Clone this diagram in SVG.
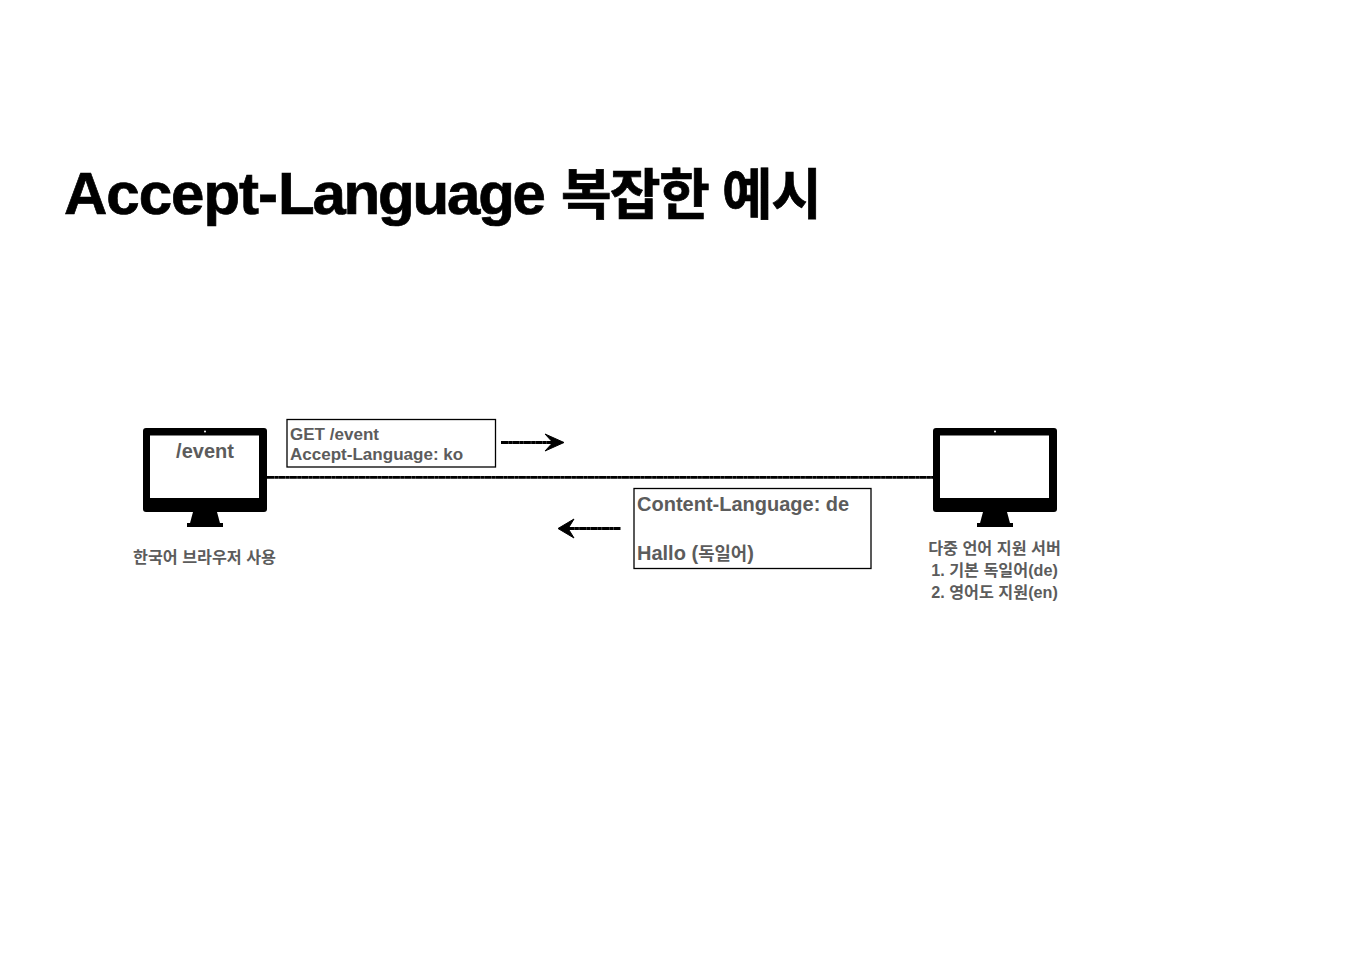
<svg xmlns="http://www.w3.org/2000/svg" width="1350" height="954" viewBox="0 0 1350 954">
<style>
text{font-family:"Liberation Sans","Noto Sans CJK KR",sans-serif;font-weight:700;fill:#5c5c5c}
.title{font-size:60px;fill:#000;stroke:#000;stroke-width:.7px;letter-spacing:-1px}
.lang{letter-spacing:-2.200px}
.ko{font-size:55px;letter-spacing:-1.5px}
.s{font-size:16.200px}
.m{font-size:17.050px}
.l{font-size:20px}
.ko2{font-size:17.800px}
.box{fill:#fff;stroke:#000;stroke-width:1.3}
.wire{fill:none;stroke:#000;stroke-width:2.800;stroke-dasharray:7 .25 4 .2}
.head{fill:#000;stroke:#000;stroke-width:1;stroke-linejoin:round}
</style>
<defs>
<g id="monitor">
<rect x="0" y="0" width="124" height="84" rx="3" fill="#000"/>
<rect x="7" y="7.500" width="109" height="62.500" fill="#fff"/>
<circle cx="62" cy="3.500" r="1" fill="#fff"/>
<path d="M50 84h24l3.500 13h-31z" fill="#000"/>
<rect x="44" y="95" width="36" height="4" fill="#000"/>
</g>
</defs>
<rect width="1350" height="954" fill="#fff"/>
<text id="title" class="title" x="64" y="214">Accept-<tspan class="lang" x="278" y="214">Language</tspan> <tspan class="ko" x="561" y="214">복잡한 예시</tspan></text>
<g id="connectors">
<path class="wire" d="M267 477.300H933"/>
<path class="wire" d="M501 442.500H556"/>
<path class="head" d="M564 442.500L545 434L551 440.500L551 444.500L545 451Z"/>
<path class="wire" d="M620.500 528.500H566"/>
<path class="head" d="M558 528.500L574 519L569.500 526.300V530.700L574 538Z"/>
</g>
<g id="client">
<use href="#monitor" x="143" y="428"/>
<text class="l" x="205" y="458" text-anchor="middle">/event</text>
<text class="s" x="204.500" y="563" text-anchor="middle">한국어 브라우저 사용</text>
</g>
<g id="server">
<use href="#monitor" x="933" y="428"/>
<text class="s" x="994.500" y="554" text-anchor="middle">다중 언어 지원 서버</text>
<text class="s" x="994.500" y="576" text-anchor="middle">1. 기본 독일어(de)</text>
<text class="s" x="994.500" y="598" text-anchor="middle">2. 영어도 지원(en)</text>
</g>
<g id="request">
<rect class="box" x="287" y="419.500" width="208.500" height="47.500"/>
<text class="m" x="290" y="439.500">GET /event</text>
<text class="m" x="290" y="460">Accept-Language: ko</text>
</g>
<g id="response">
<rect class="box" x="634" y="488.500" width="237" height="80"/>
<text class="l" x="637" y="511">Content-Language: de</text>
<text class="l" x="637" y="560">Hallo (<tspan class="ko2">독일어</tspan>)</text>
</g>
</svg>
